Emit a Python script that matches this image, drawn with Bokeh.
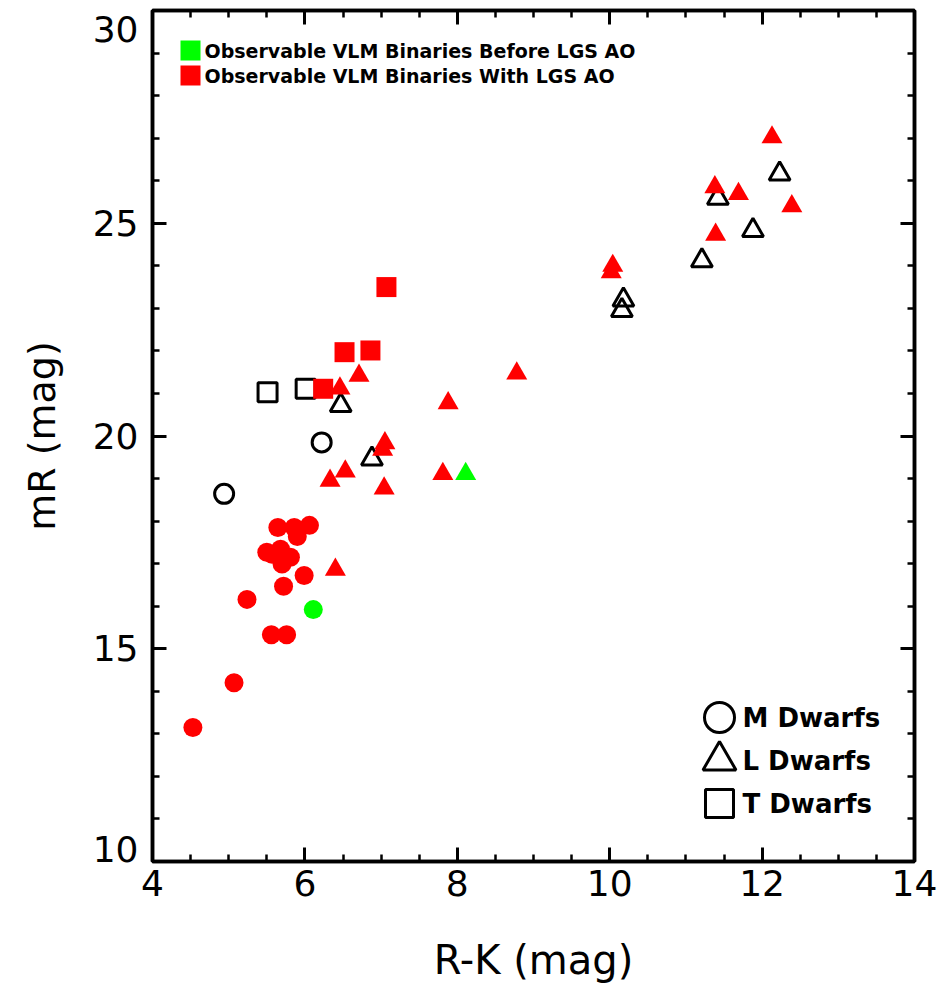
from bokeh.plotting import figure
from bokeh.models import LinearAxis, FixedTicker, Label, Range1d
from bokeh.embed import file_html
from bokeh.resources import INLINE

# ---------------- data ----------------
# M dwarfs (circles)
m_red_x = [4.53, 5.07, 5.24, 5.56, 5.76, 5.645, 5.86, 6.06, 5.90, 5.50, 5.57, 5.68, 5.81, 5.70, 5.99, 5.72]
m_red_y = [13.15, 14.20, 16.16, 15.33, 15.33, 17.85, 17.85, 17.90, 17.64, 17.27, 17.22, 17.34, 17.15, 16.99, 16.72, 16.47]
m_green_x = [6.11]
m_green_y = [15.92]
m_black_x = [4.94, 6.22]
m_black_y = [18.64, 19.85]

# L dwarfs (triangles)
l_red_x = [6.40, 6.46, 6.71, 8.78, 7.88, 7.05, 7.02, 6.53, 6.33, 7.04, 7.81,
           12.13, 11.38, 11.69, 12.39, 11.39, 10.04, 10.02]
l_red_y = [16.86, 21.12, 21.42, 21.47, 20.77, 19.83, 19.68, 19.17, 18.95, 18.77, 19.11,
           27.02, 25.85, 25.69, 25.40, 24.73, 24.00, 23.85]
l_green_x = [8.11]
l_green_y = [19.11]
l_black_x = [6.47, 6.88, 12.23, 11.42, 11.88, 11.21, 10.18, 10.16]
l_black_y = [20.72, 19.46, 26.16, 25.59, 24.83, 24.12, 23.20, 22.95]

# T dwarfs (squares)
t_red_x = [7.07, 6.52, 6.86, 6.24]
t_red_y = [23.50, 21.97, 22.01, 21.11]
t_black_x = [5.51, 6.01]
t_black_y = [21.03, 21.11]

x_ticks = [4, 6, 8, 10, 12, 14]
y_ticks = [10, 15, 20, 25, 30]
x_minor = [4 + 0.5 * i for i in range(21)]
y_minor = list(range(10, 31))

x_title = "R-K (mag)"
y_title = "mR (mag)"
legend1_labels = ["Observable VLM Binaries Before LGS AO", "Observable VLM Binaries With LGS AO"]
legend1_colors = ["#00ff00", "#ff0000"]
legend2_labels = ["M Dwarfs", "L Dwarfs", "T Dwarfs"]
legend2_markers = ["circle", "triangle", "square"]

RED = "#ff0000"
GREEN = "#00ff00"

# ---------------- layout ----------------
W, H = 946, 988
FL, FR, FT, FB = 152, 914, 10, 861
X0, X1, Y0, Y1 = 4, 14, 10, 30

p = figure(width=W, height=H, x_range=Range1d(X0, X1), y_range=Range1d(Y0, Y1),
           output_backend="svg", toolbar_location=None,
           min_border_left=FL, min_border_right=W - FR,
           min_border_top=FT, min_border_bottom=H - FB)
p.xgrid.visible = False
p.ygrid.visible = False
p.outline_line_color = "black"
p.outline_line_width = 3.5
p.background_fill_color = "white"
p.border_fill_color = "white"

FONT = "DejaVu Sans"


def px2x(px):
    return X0 + (px - FL) * (X1 - X0) / (FR - FL)


def py2y(py):
    return Y0 + (FB - py) * (Y1 - Y0) / (FB - FT)


def style_axis(ax, ticks, minor, show_labels):
    ax.ticker = FixedTicker(ticks=ticks, minor_ticks=minor)
    ax.axis_line_color = "black"
    ax.axis_line_width = 3.5
    ax.major_tick_in = 14
    ax.major_tick_out = 0
    ax.minor_tick_in = 7
    ax.minor_tick_out = 0
    ax.major_tick_line_width = 3
    ax.minor_tick_line_width = 2.5
    ax.major_tick_line_color = "black"
    ax.minor_tick_line_color = "black"
    if show_labels:
        ax.major_label_text_font = FONT
        ax.major_label_text_font_size = "36px"
        ax.major_label_text_color = "black"
        ax.axis_label_text_font = FONT
        ax.axis_label_text_font_style = "normal"
        ax.axis_label_text_color = "black"
    else:
        ax.major_label_text_font_size = "1px"
        ax.major_label_text_alpha = 0
        ax.major_label_standoff = 0


style_axis(p.xaxis[0], x_ticks, x_minor, True)
style_axis(p.yaxis[0], y_ticks, y_minor, True)
p.xaxis[0].axis_label = x_title
p.xaxis[0].axis_label_text_font_size = "40px"
p.xaxis[0].major_label_standoff = 8
p.xaxis[0].axis_label_standoff = 38
p.yaxis[0].axis_label = y_title
p.yaxis[0].axis_label_text_font_size = "38px"
p.yaxis[0].major_label_standoff = 14
p.yaxis[0].axis_label_standoff = 26
# end labels of the y axis sit inside the canvas, as in the reference
p.yaxis[0].major_label_overrides = {30: " \n30", 10: "10\n \n \n "}
p.yaxis[0].major_label_text_line_height = 0.2

top_ax = LinearAxis()
right_ax = LinearAxis()
style_axis(top_ax, x_ticks, x_minor, False)
style_axis(right_ax, y_ticks, y_minor, False)
p.add_layout(top_ax, "above")
p.add_layout(right_ax, "right")

# ---------------- markers ----------------
LW = 3
# black open markers first
p.scatter(m_black_x, m_black_y, marker="circle", size=19, fill_color=None, line_color="black", line_width=LW)
p.scatter(l_black_x, l_black_y, marker="triangle", size=21, fill_color=None, line_color="black", line_width=LW)
p.scatter(t_black_x, t_black_y, marker="square", size=19, fill_color=None, line_color="black", line_width=LW)
# red filled
p.scatter(m_red_x, m_red_y, marker="circle", size=19, fill_color=RED, line_color=None)
p.scatter(l_red_x, l_red_y, marker="triangle", size=21, fill_color=RED, line_color=None)
p.scatter(t_red_x, t_red_y, marker="square", size=20, fill_color=RED, line_color=None)
# green filled
p.scatter(m_green_x, m_green_y, marker="circle", size=19, fill_color=GREEN, line_color=None)
p.scatter(l_green_x, l_green_y, marker="triangle", size=21, fill_color=GREEN, line_color=None)

# ---------------- legends (positions given in pixels, converted) ----------------
leg1_px_y = [50, 75]
p.scatter([px2x(190)] * 2, [py2y(v) for v in leg1_px_y], marker="square", size=20,
          fill_color=legend1_colors, line_color=None)
for lab, yy in zip(legend1_labels, leg1_px_y):
    p.add_layout(Label(x=px2x(204), y=py2y(yy), text=lab, text_font=FONT, text_font_style="bold",
                       text_font_size="19px", text_baseline="middle", text_align="left", text_color="black"))

leg2_px_y = [717, 760, 803]
leg2_sizes = [30, 33, 28]
for mk, yy, sz, lab in zip(legend2_markers, leg2_px_y, leg2_sizes, legend2_labels):
    p.scatter([px2x(719)], [py2y(yy)], marker=mk, size=sz, fill_color=None,
              line_color="black", line_width=3)
    p.add_layout(Label(x=px2x(742), y=py2y(yy), text=lab, text_font=FONT, text_font_style="bold",
                       text_font_size="26px", text_baseline="middle", text_align="left", text_color="black"))

open("out.html", "w").write(file_html(p, INLINE))
